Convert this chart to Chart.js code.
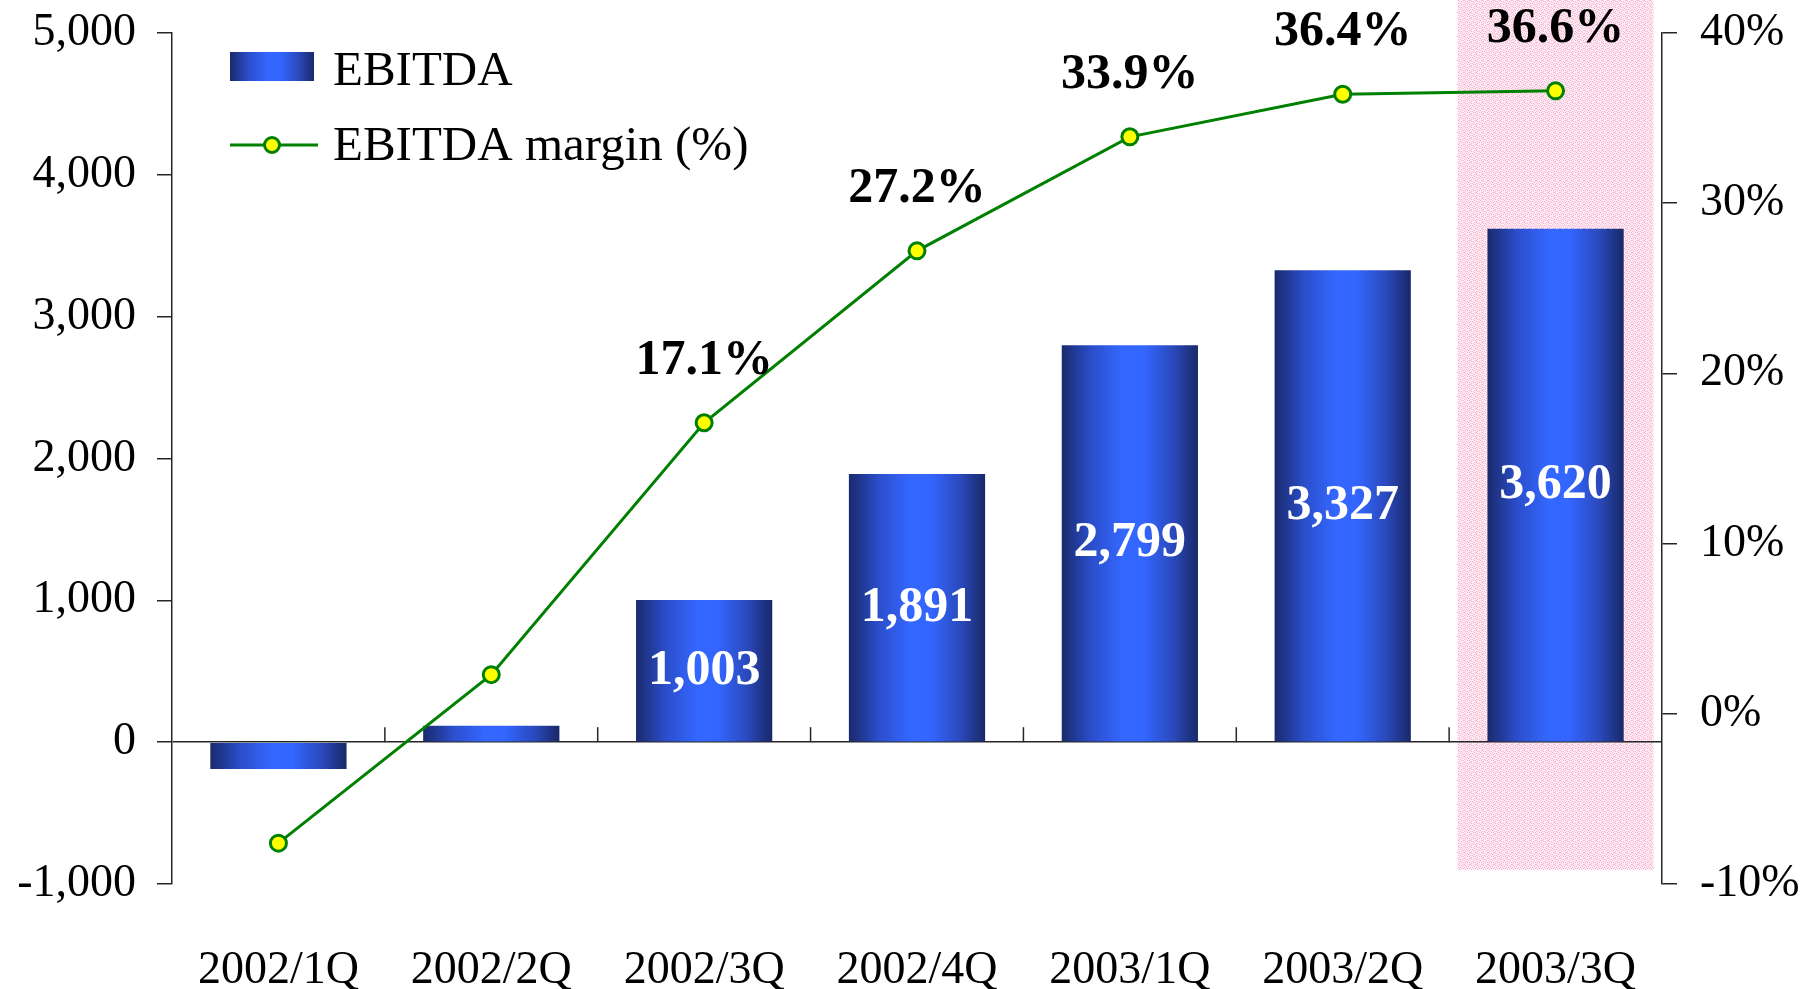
<!DOCTYPE html>
<html>
<head>
<meta charset="utf-8">
<script src="https://cdn.jsdelivr.net/npm/chart.js@4"></script>
<style>
  html, body { margin: 0; padding: 0; background: #fff; }
  #wrap { width: 1801px; height: 989px; }
</style>
</head>
<body>
<div id="wrap"><canvas id="ebitdaChart"></canvas></div>
<script>
let quarters = ["2002/1Q", "2002/2Q", "2002/3Q", "2002/4Q", "2003/1Q", "2003/2Q", "2003/3Q"];
let ebitda = [-190, 115, 1003, 1891, 2799, 3327, 3620];
let margin = [-7.6, 2.3, 17.1, 27.2, 33.9, 36.4, 36.6];
let leftTicks = [-1000, 0, 1000, 2000, 3000, 4000, 5000];
let rightTicks = [-10, 0, 10, 20, 30, 40];
let firstLabelled = 2;
let highlighted = 6;

let serif = "'Liberation Serif', 'Times New Roman', serif";
let green = "#008000";
let axisColor = "#262626";

function barGradient(ctx, left, right) {
  let g = ctx.createLinearGradient(left, 0, right, 0);
  g.addColorStop(0, "#1a2a6c");
  g.addColorStop(0.22, "#2b4ecb");
  g.addColorStop(0.45, "#3467ff");
  g.addColorStop(0.6, "#3366ff");
  g.addColorStop(0.82, "#2a49bb");
  g.addColorStop(1, "#192868");
  return g;
}

// pink dotted texture for the highlighted quarter
let tile = document.createElement("canvas");
tile.width = 6;
tile.height = 6;
let tctx = tile.getContext("2d");
for (let i = 0; i < 6; i++) {
  for (let j = 0; j < 6; j++) {
    tctx.fillStyle = (i * 3 + j * 5) % 7 < 2 ? "#f6b4cf" : "#feeaf2";
    tctx.fillRect(i, j, 1, 1);
  }
}

// no extra room for half tick labels, the layout padding handles it
function fixWidth(w) {
  return (s) => {
    s.width = w;
    s.paddingTop = 0;
    s.paddingBottom = 0;
  };
}

let decorations = {
  id: "decorations",
  beforeDraw(chart) {
    let ctx = chart.ctx;
    let x = chart.scales.x;
    let y = chart.scales.y;
    let step = x.width / quarters.length;
    let cx = x.getPixelForValue(highlighted);
    ctx.save();
    ctx.fillStyle = ctx.createPattern(tile, "repeat");
    ctx.fillRect(cx - step * 0.46, 0, step * 0.92, y.getPixelForValue(leftTicks[0]) - 14);
    ctx.restore();
  },
  beforeDatasetsDraw(chart) {
    let ctx = chart.ctx;
    let x = chart.scales.x;
    let y = chart.scales.y;
    let step = x.width / quarters.length;
    let zero = y.getPixelForValue(0);
    ctx.save();
    ctx.strokeStyle = axisColor;
    ctx.lineWidth = 1.5;
    for (let i = 1; i < quarters.length; i++) {
      let bx = x.getPixelForValue(i) - step / 2;
      ctx.beginPath();
      ctx.moveTo(bx, zero);
      ctx.lineTo(bx, zero - 15);
      ctx.stroke();
    }
    ctx.restore();
    chart.getDatasetMeta(1).data.forEach((bar) => {
      bar.options = Object.assign({}, bar.options, {
        backgroundColor: barGradient(ctx, bar.x - bar.width / 2, bar.x + bar.width / 2),
      });
    });
  },
  afterDatasetsDraw(chart) {
    let ctx = chart.ctx;
    let bars = chart.getDatasetMeta(1).data;
    let points = chart.getDatasetMeta(0).data;
    ctx.save();
    ctx.textAlign = "center";
    ctx.textBaseline = "middle";
    ctx.font = "bold 50px " + serif;
    for (let i = firstLabelled; i < quarters.length; i++) {
      let bar = bars[i];
      ctx.fillStyle = "#ffffff";
      ctx.fillText(ebitda[i].toLocaleString("en-US"), bar.x, (bar.y + bar.base) / 2);
      ctx.fillStyle = "#000000";
      ctx.fillText(margin[i].toFixed(1) + "%", points[i].x, points[i].y - 62);
    }
    ctx.restore();
  },
  afterDraw(chart) {
    let ctx = chart.ctx;
    let a = chart.chartArea;
    let sx = a.left + 58;
    ctx.save();
    ctx.fillStyle = barGradient(ctx, sx, sx + 84);
    ctx.fillRect(sx, a.top + 19, 84, 29);
    ctx.strokeStyle = green;
    ctx.lineWidth = 3;
    ctx.beginPath();
    ctx.moveTo(sx, a.top + 112);
    ctx.lineTo(sx + 88, a.top + 112);
    ctx.stroke();
    ctx.beginPath();
    ctx.arc(sx + 42, a.top + 112, 7.5, 0, Math.PI * 2);
    ctx.fillStyle = "#ffff00";
    ctx.fill();
    ctx.stroke();
    ctx.fillStyle = "#000000";
    ctx.font = "49px " + serif;
    ctx.textBaseline = "middle";
    ctx.fillText(chart.data.datasets[1].label, a.left + 161, a.top + 39);
    ctx.fillText(chart.data.datasets[0].label, a.left + 161, a.top + 114);
    ctx.restore();
  },
};

new Chart(document.querySelector("#ebitdaChart"), {
  type: "bar",
  data: {
    labels: quarters,
    datasets: [
      {
        type: "line",
        label: "EBITDA margin (%)",
        data: margin,
        yAxisID: "y2",
        order: 0,
        borderColor: green,
        borderWidth: 3,
        pointRadius: 8,
        pointBorderWidth: 3,
        pointBackgroundColor: "#ffff00",
        pointBorderColor: green,
        tension: 0,
        fill: false,
      },
      {
        label: "EBITDA",
        data: ebitda,
        yAxisID: "y",
        order: 1,
        backgroundColor: "#3366ff",
        categoryPercentage: 1,
        barPercentage: 0.64,
      },
    ],
  },
  options: {
    responsive: true,
    maintainAspectRatio: false,
    animation: false,
    layout: { padding: { top: 33, left: 0, right: 0, bottom: 0 } },
    scales: {
      x: {
        grid: { display: false },
        border: { display: false },
        ticks: {
          padding: 51,
          color: "#000",
          font: { size: 46, family: serif },
        },
        afterFit: (s) => { s.height = 105; },
      },
      y: {
        position: "left",
        min: leftTicks[0],
        max: leftTicks[leftTicks.length - 1],
        ticks: {
          stepSize: leftTicks[1] - leftTicks[0],
          padding: 21,
          color: "#000",
          font: { size: 46, family: serif },
          callback: (v) => Number(v).toLocaleString("en-US"),
        },
        grid: {
          color: (c) => (c.tick && c.tick.value === 0 ? axisColor : "transparent"),
          lineWidth: 1.5,
          tickLength: 15,
          tickColor: axisColor,
        },
        border: { color: axisColor, width: 1.5 },
        afterFit: fixWidth(172),
      },
      y2: {
        position: "right",
        min: rightTicks[0],
        max: rightTicks[rightTicks.length - 1],
        ticks: {
          stepSize: rightTicks[1] - rightTicks[0],
          padding: 23,
          color: "#000",
          font: { size: 46, family: serif },
          callback: (v) => v + "%",
        },
        grid: {
          drawOnChartArea: false,
          tickLength: 15,
          tickColor: axisColor,
          lineWidth: 1.5,
        },
        border: { color: axisColor, width: 1.5 },
        afterFit: fixWidth(139),
      },
    },
    plugins: {
      legend: { display: false },
      tooltip: { enabled: false },
    },
  },
  plugins: [decorations],
});
</script>
</body>
</html>
